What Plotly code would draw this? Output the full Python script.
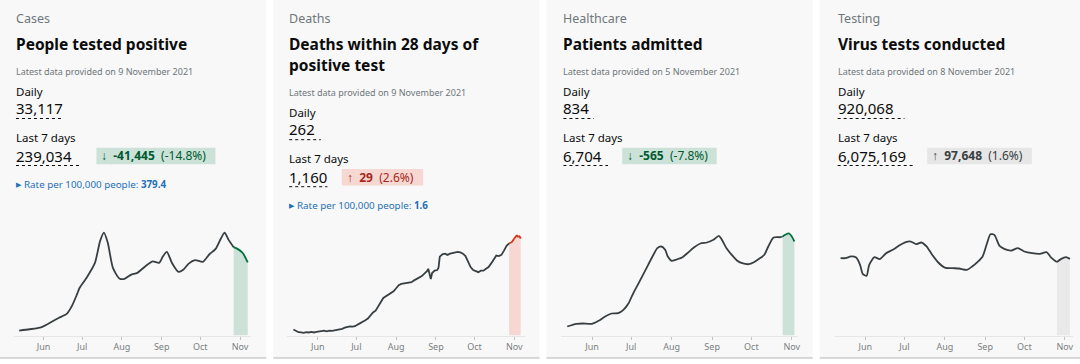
import plotly.graph_objects as go
import pandas as pd

# ---------------- data ----------------
month_ticks = ["2021-06-01", "2021-07-01", "2021-08-01", "2021-09-01", "2021-10-01", "2021-11-01"]
month_labels = ["Jun", "Jul", "Aug", "Sep", "Oct", "Nov"]

categories = ["Cases", "Deaths", "Healthcare", "Testing"]
titles = [["People tested positive"], ["Deaths within 28 days of", "positive test"],
          ["Patients admitted"], ["Virus tests conducted"]]
latest_dates = ["9 November 2021", "9 November 2021", "5 November 2021", "8 November 2021"]
daily_values = ["33,117", "262", "834", "920,068"]
week_values = ["239,034", "1,160", "6,704", "6,075,169"]
change_arrows = ["↓", "↑", "↓", "↑"]
change_values = ["-41,445", "29", "-565", "97,648"]
change_pcts = ["(-14.8%)", "(2.6%)", "(-7.8%)", "(1.6%)"]
rates = ["379.4", "1.6", None, None]

cases_dates = ["2021-05-13", "2021-05-21", "2021-05-30", "2021-06-08", "2021-06-13", "2021-06-19",
               "2021-06-23", "2021-06-27", "2021-06-29", "2021-07-05", "2021-07-11", "2021-07-15",
               "2021-07-18", "2021-07-21", "2021-07-25", "2021-07-30", "2021-08-03", "2021-08-08",
               "2021-08-13", "2021-08-20", "2021-08-25", "2021-08-30", "2021-09-02", "2021-09-05",
               "2021-09-09", "2021-09-14", "2021-09-18", "2021-09-22", "2021-09-27", "2021-10-03",
               "2021-10-08", "2021-10-13", "2021-10-17", "2021-10-20", "2021-10-23", "2021-10-27",
               "2021-10-30", "2021-11-03", "2021-11-07"]
cases_values = [2300, 2900, 3800, 6600, 8200, 10000,
                13600, 19000, 22000, 27200, 33600, 43700,
                47600, 42900, 31300, 26400, 26200, 28100,
                29000, 32400, 34300, 33600, 36700, 38700,
                33600, 29500, 30600, 33300, 34900, 34100,
                37500, 40100, 44800, 47600, 44400, 40900,
                40100, 38300, 33900]
cases_highlight_from = "2021-10-27"

deaths_dates = ["2021-05-13", "2021-05-15", "2021-05-17", "2021-05-19", "2021-05-21", "2021-05-23",
                "2021-05-25", "2021-05-27", "2021-05-29", "2021-05-31", "2021-06-02", "2021-06-04",
                "2021-06-06", "2021-06-08", "2021-06-10", "2021-06-12", "2021-06-14", "2021-06-16",
                "2021-06-18", "2021-06-20", "2021-06-22", "2021-06-24", "2021-06-26", "2021-06-28",
                "2021-06-30", "2021-07-02", "2021-07-04", "2021-07-06", "2021-07-08", "2021-07-10",
                "2021-07-12", "2021-07-14", "2021-07-16", "2021-07-18", "2021-07-20", "2021-07-22",
                "2021-07-24", "2021-07-26", "2021-07-28", "2021-07-30", "2021-08-01", "2021-08-03",
                "2021-08-05", "2021-08-07", "2021-08-09", "2021-08-11", "2021-08-13", "2021-08-15",
                "2021-08-17", "2021-08-19", "2021-08-21", "2021-08-23", "2021-08-25", "2021-08-26",
                "2021-08-27", "2021-08-28", "2021-08-29", "2021-08-31", "2021-09-02", "2021-09-03",
                "2021-09-04", "2021-09-06", "2021-09-08", "2021-09-10", "2021-09-12", "2021-09-14",
                "2021-09-16", "2021-09-18", "2021-09-20", "2021-09-22", "2021-09-24", "2021-09-26",
                "2021-09-28", "2021-09-30", "2021-10-02", "2021-10-04", "2021-10-06", "2021-10-08",
                "2021-10-10", "2021-10-12", "2021-10-14", "2021-10-16", "2021-10-18", "2021-10-20",
                "2021-10-22", "2021-10-24", "2021-10-26", "2021-10-28", "2021-10-30", "2021-11-01",
                "2021-11-03", "2021-11-04", "2021-11-05", "2021-11-06"]
deaths_values = [10, 7, 5.5, 5, 4.4, 5.5,
                 5, 6, 5, 6, 7, 7.5,
                 8, 7, 8, 7.7, 8.5, 9.4,
                 10, 11, 13, 14, 15, 14.5,
                 15.4, 18, 20, 22, 25, 28,
                 33, 38, 41, 47, 55, 62,
                 65, 68, 70, 73, 78, 83,
                 85, 85.5, 86, 87, 88, 91,
                 93, 95, 98, 102, 106, 110,
                 100, 93, 103, 107, 108, 112,
                 130, 134, 135, 133, 135, 136,
                 137.5, 138, 137, 135, 131, 121,
                 113, 108, 106, 104.5, 107, 107,
                 110, 113, 119, 126.5, 132, 131,
                 133, 140, 148, 152, 154, 160,
                 165, 163, 164, 160]
deaths_highlight_from = "2021-10-28"

admissions_dates = ["2021-05-13", "2021-05-20", "2021-05-25", "2021-06-01", "2021-06-06", "2021-06-11",
                    "2021-06-16", "2021-06-21", "2021-06-25", "2021-06-29", "2021-07-02", "2021-07-06",
                    "2021-07-10", "2021-07-14", "2021-07-18", "2021-07-21", "2021-07-24", "2021-07-27",
                    "2021-07-29", "2021-08-01", "2021-08-04", "2021-08-09", "2021-08-13", "2021-08-18",
                    "2021-08-23", "2021-08-28", "2021-09-02", "2021-09-06", "2021-09-08", "2021-09-12",
                    "2021-09-16", "2021-09-20", "2021-09-24", "2021-09-29", "2021-10-03", "2021-10-07",
                    "2021-10-11", "2021-10-14", "2021-10-18", "2021-10-23", "2021-10-25", "2021-10-27",
                    "2021-10-30", "2021-11-01", "2021-11-03"]
admissions_values = [90, 117, 120, 117, 147, 190,
                     220, 223, 257, 323, 407, 507,
                     607, 707, 807, 873, 890, 857,
                     790, 747, 757, 780, 823, 880,
                     920, 930, 957, 997, 967, 873,
                     807, 750, 723, 713, 733, 767,
                     807, 890, 980, 983, 990, 1007,
                     1020, 990, 940]
admissions_highlight_from = "2021-10-25"

tests_dates = ["2021-05-13", "2021-05-17", "2021-05-21", "2021-05-25", "2021-05-28", "2021-05-30",
               "2021-06-02", "2021-06-04", "2021-06-08", "2021-06-12", "2021-06-17", "2021-06-22",
               "2021-06-27", "2021-07-02", "2021-07-06", "2021-07-10", "2021-07-14", "2021-07-18",
               "2021-07-22", "2021-07-27", "2021-08-01", "2021-08-07", "2021-08-12", "2021-08-18",
               "2021-08-22", "2021-08-26", "2021-08-30", "2021-09-02", "2021-09-05", "2021-09-08",
               "2021-09-12", "2021-09-16", "2021-09-21", "2021-09-26", "2021-10-01", "2021-10-07",
               "2021-10-13", "2021-10-18", "2021-10-22", "2021-10-26", "2021-10-29", "2021-11-02",
               "2021-11-05"]
tests_values = [874000, 874000, 893000, 881000, 799000, 697000,
                674000, 799000, 885000, 863000, 930000, 968000,
                1017000, 1055000, 1062000, 1032000, 1051000, 1006000,
                919000, 825000, 768000, 761000, 757000, 742000,
                780000, 829000, 893000, 1025000, 1145000, 1137000,
                1013000, 976000, 960000, 987000, 949000, 930000,
                923000, 942000, 874000, 829000, 863000, 885000,
                866000]
tests_highlight_from = "2021-10-26"

series = [
    (cases_dates, cases_values, cases_highlight_from),
    (deaths_dates, deaths_values, deaths_highlight_from),
    (admissions_dates, admissions_values, admissions_highlight_from),
    (tests_dates, tests_values, tests_highlight_from),
]

# ---------------- styling / layout ----------------
W, H = 1080, 364
FONT = "Noto Sans"
BLACK = "#0b0c0c"
GREY = "#6f777b"
BLUE = "#1d70b8"

card_x0 = [0, 274, 548, 822]
card_w = 267
card_bottom = 358
text_left = [14, 288, 563, 838]

hl_line = ["#00703c", "#d4351c", "#00703c", "#383f43"]
hl_fill = ["#cce2d8", "#f6d7d2", "#cce2d8", "#e9e9e9"]
badge_bg = ["#cce2d8", "#f6d7d2", "#cce2d8", "#e6e6e6"]
badge_fg = ["#005a30", "#a8281a", "#005a30", "#383f43"]

dom_px = [(14, 252), (288, 526), (563, 800), (837, 1076)]
jun_px = [43.7, 318.7, 593.7, 867.7]
nov_px = [240.7, 515.7, 794.0, 1067.7]
y_base_px = 335.5
y_top_px = 215.5
y_max = [55560, 198, 1200, 1356000]

# text vertical positions (px) for one-line-title cards; card 2 offset
vpos = dict(cat=18, title=44, latest=71.5, daily=91, dval=107.5, dline=118.5,
            last7=137, wval=155.5, wline=165.5, badge=(147.7, 164.2), rate=184.5)
shift = [0, 21.2, 0, 0]
dline_len = [46, 31.7, 30.7, 67]
wline_len = [66, 38.3, 44.7, 76.3]
badge_x = [(96.7, 216), (342.7, 424.3), (624, 718.7), (929.7, 1034.7)]


def fx(x):
    return x / W


def fy(y):
    return 1 - y / H


fig = go.Figure()
shapes = []
annotations = []


def txt(x, y, s, size, color, xanchor="left"):
    annotations.append(dict(x=fx(x), y=fy(y), xref="paper", yref="paper", text=s,
                            showarrow=False, xanchor=xanchor, yanchor="middle",
                            font=dict(family=FONT, size=size, color=color)))


jun1 = pd.Timestamp("2021-06-01")
nov1 = pd.Timestamp("2021-11-01")
span_days = (nov1 - jun1).days

for i in range(4):
    x0 = card_x0[i]
    shapes.append(dict(type="rect", xref="paper", yref="paper", x0=fx(x0), x1=fx(x0 + card_w),
                       y0=fy(card_bottom), y1=fy(0), fillcolor="#f8f8f8", line=dict(width=0),
                       layer="below"))
    shapes.append(dict(type="line", xref="paper", yref="paper", x0=fx(x0), x1=fx(x0 + card_w),
                       y0=fy(card_bottom), y1=fy(card_bottom), line=dict(color="#b1b4b6", width=1),
                       layer="below"))

    L = text_left[i]
    s = shift[i]
    txt(L, vpos["cat"], categories[i], 12.5, GREY)
    for k, line in enumerate(titles[i]):
        txt(L, vpos["title"] + 21 * k, "<b>" + line + "</b>", 15.5, BLACK)
    txt(L, vpos["latest"] + s, "Latest data provided on " + latest_dates[i], 9, GREY)
    txt(L, vpos["daily"] + s, "Daily", 11.5, BLACK)
    txt(L, vpos["dval"] + s, daily_values[i], 15, BLACK)
    shapes.append(dict(type="line", xref="paper", yref="paper", x0=fx(L + 2), x1=fx(L + 2 + dline_len[i]),
                       y0=fy(vpos["dline"] + s), y1=fy(vpos["dline"] + s),
                       line=dict(color=BLACK, width=1, dash="dot")))
    txt(L, vpos["last7"] + s, "Last 7 days", 11.5, BLACK)
    txt(L, vpos["wval"] + s, week_values[i], 15, BLACK)
    shapes.append(dict(type="line", xref="paper", yref="paper", x0=fx(L + 2), x1=fx(L + 2 + wline_len[i]),
                       y0=fy(vpos["wline"] + s), y1=fy(vpos["wline"] + s),
                       line=dict(color=BLACK, width=1, dash="dot")))
    bx0, bx1 = badge_x[i]
    by0, by1 = vpos["badge"]
    shapes.append(dict(type="rect", xref="paper", yref="paper", x0=fx(bx0), x1=fx(bx1),
                       y0=fy(by1 + s), y1=fy(by0 + s), fillcolor=badge_bg[i], line=dict(width=0),
                       layer="below"))
    txt(bx0 + 3, (by0 + by1) / 2 + s,
        change_arrows[i] + "  <b>" + change_values[i] + "</b>  " + change_pcts[i], 12, badge_fg[i])
    if rates[i] is not None:
        txt(L, vpos["rate"] + s, "▶", 7, BLUE)
        txt(L + 8, vpos["rate"] + s, "Rate per 100,000 people: <b>" + rates[i] + "</b>", 9.8, BLUE)

    # chart axes
    d0, d1 = dom_px[i]
    ppd = (nov_px[i] - jun_px[i]) / span_days
    r0 = jun1 + pd.Timedelta(days=(d0 - jun_px[i]) / ppd)
    r1 = jun1 + pd.Timedelta(days=(d1 - jun_px[i]) / ppd)
    ax = "" if i == 0 else str(i + 1)
    fig.layout["xaxis" + ax] = dict(
        domain=[fx(d0), fx(d1)], range=[r0, r1], type="date", anchor="y" + ax,
        tickvals=month_ticks, ticktext=month_labels, showgrid=False, zeroline=False,
        showline=True, linecolor="#e6e6e6", linewidth=1, ticks="outside", ticklen=3,
        tickcolor="#c4c4c4", tickfont=dict(family=FONT, size=9, color="#7a7f82"),
        fixedrange=True)
    fig.layout["yaxis" + ax] = dict(
        domain=[fy(y_base_px), fy(y_top_px)], range=[0, y_max[i]], visible=False,
        showgrid=False, zeroline=False, anchor="x" + ax, fixedrange=True)

    dates, vals, hl = series[i]
    df = pd.DataFrame({"d": pd.to_datetime(dates), "v": vals})
    hlts = pd.Timestamp(hl)
    main = df[df.d <= hlts]
    tail = df[df.d >= hlts]
    fig.add_trace(go.Scatter(x=tail.d, y=tail.v, mode="lines", fill="tozeroy",
                             fillcolor=hl_fill[i], line=dict(color=hl_line[i], width=1.8,
                                                             shape="spline", smoothing=0.6),
                             xaxis="x" + ax, yaxis="y" + ax, hoverinfo="skip"))
    fig.add_trace(go.Scatter(x=main.d, y=main.v, mode="lines",
                             line=dict(color="#383f43", width=1.8,
                                       shape=("linear" if i == 1 else "spline"), smoothing=0.6),
                             xaxis="x" + ax, yaxis="y" + ax, hoverinfo="skip"))

fig.update_layout(width=W, height=H, margin=dict(l=0, r=0, t=0, b=0),
                  paper_bgcolor="white", plot_bgcolor="rgba(0,0,0,0)",
                  showlegend=False, shapes=shapes, annotations=annotations,
                  font=dict(family=FONT))

fig.write_html("out.html", config={"displayModeBar": False},
               post_script="document.body.style.margin='0';")
